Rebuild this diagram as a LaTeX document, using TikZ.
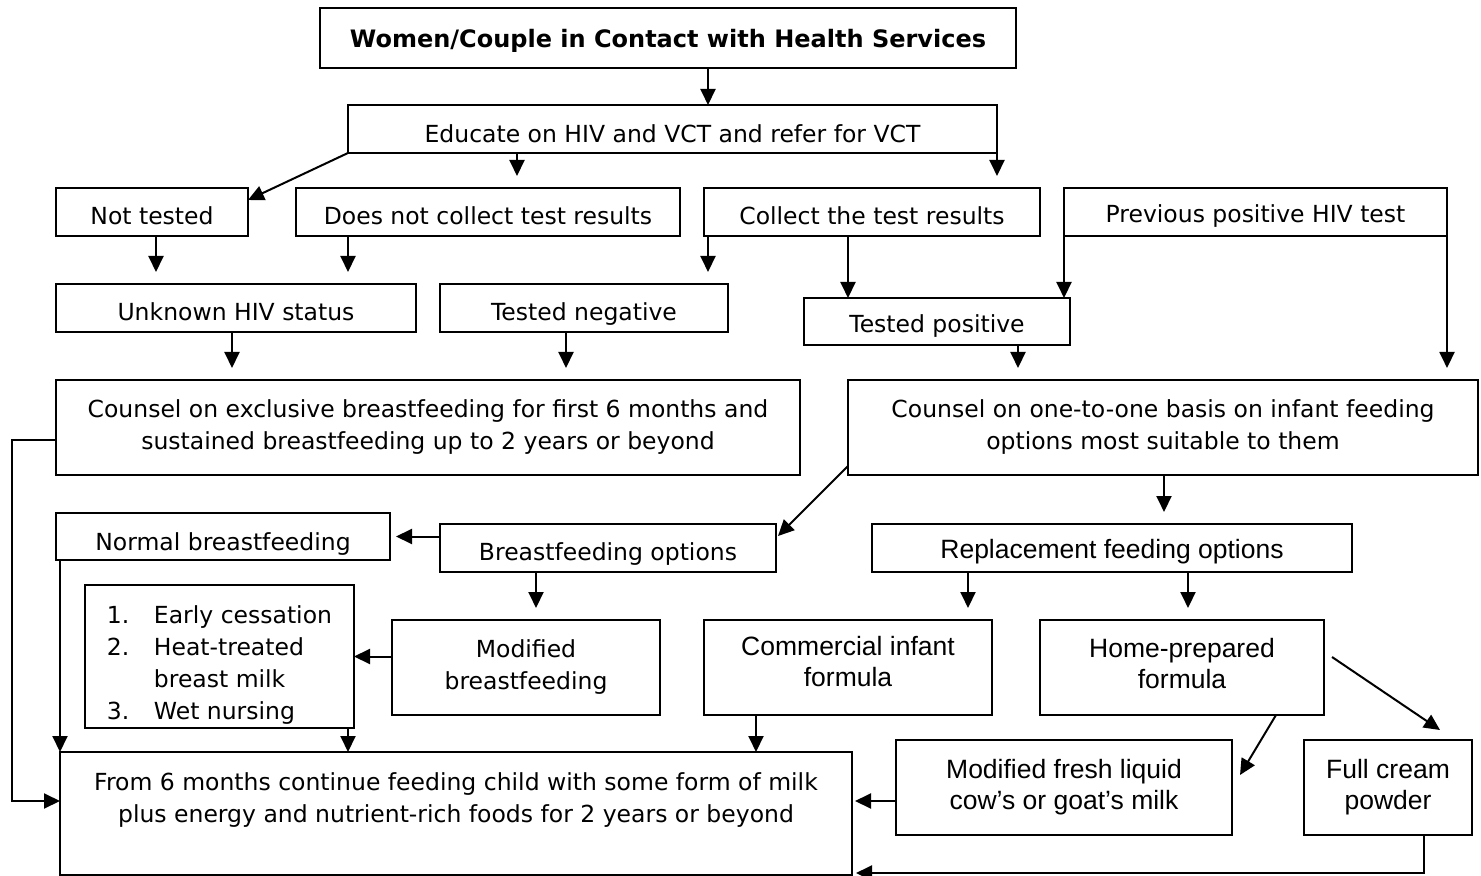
\documentclass[tikz,border=0pt]{standalone}
\usepackage{fontspec}
\newfontfamily\tahoma{DejaVu Sans}
\newfontfamily\arial{Liberation Sans}
\usetikzlibrary{arrows.meta,calc}

\tikzset{
  box/.style={draw, line width=1pt, inner sep=0pt, outer sep=0pt, align=center},
  tbox/.style={box, font=\tahoma\fontsize{11.75}{16}\selectfont},
  abox/.style={box, font=\arial\fontsize{13.25}{15.5}\selectfont},
  one/.style={text height=13pt, text depth=0pt},
  arr/.style={line width=1pt, -{Triangle[length=8pt,width=7.5pt]}}
}

\begin{document}
\begin{tikzpicture}[x=0.5pt,y=-0.5pt]
\useasboundingbox (0,0) rectangle (1481,876);
% testing part
\node[tbox, one, text height=9.5pt, minimum width=348pt, minimum height=30pt, font=\tahoma\bfseries\fontsize{12}{16}\selectfont] (top) at (668,38) {Women/Couple in Contact with Health Services};
\node[tbox, one, text height=14pt, minimum width=324.5pt, minimum height=24pt] (edu) at (672.5,129) {Educate on HIV and VCT and refer for VCT};
\node[tbox, one, minimum width=96pt, minimum height=24pt] (nt) at (152,212) {Not tested};
\node[tbox, one, minimum width=192pt, minimum height=24pt] (dnc) at (488,212) {Does not collect test results};
\node[tbox, one, minimum width=168pt, minimum height=24pt] (col) at (872,212) {Collect the test results};
\node[tbox, one, text height=11pt, minimum width=191.5pt, minimum height=24pt] (prev) at (1255.5,212) {Previous positive HIV test};
\node[tbox, one, minimum width=180pt, minimum height=24pt] (unk) at (236,308) {Unknown HIV status};
\node[tbox, one, minimum width=144pt, minimum height=24pt] (neg) at (584,308) {Tested negative};
\node[tbox, one, text height=11.5pt, minimum width=133pt, minimum height=23.5pt] (pos) at (937,321.5) {Tested positive};
% counselling
\node[tbox, minimum width=372pt, minimum height=47.5pt] (cbf) at (428,427.5) {Counsel on exclusive breastfeeding for first 6 months and\\sustained breastfeeding up to 2 years or beyond};
\node[tbox, minimum width=315pt, minimum height=47.5pt] (c121) at (1163,427.5) {Counsel on one-to-one basis on infant feeding\\options most suitable to them};
% feeding options
\node[tbox, one, text height=13.5pt, minimum width=167pt, minimum height=23.5pt] (nbf) at (223,536.5) {Normal breastfeeding};
\node[tbox, one, text height=12pt, minimum width=168pt, minimum height=24pt] (bfo) at (608,548) {Breastfeeding options};
\node[abox, one, text height=10pt, minimum width=240pt, minimum height=24pt] (rfo) at (1112,548) {Replacement feeding options};
\node[tbox, minimum width=134.5pt, minimum height=71.5pt, align=left] (lst) at (219.5,656.5) {\rule{0pt}{17pt}\makebox[23.5pt][l]{1.}Early cessation\\\makebox[23.5pt][l]{2.}Heat-treated\\\makebox[23.5pt][l]{}breast milk\\\makebox[23.5pt][l]{3.}Wet nursing};
\node[tbox, minimum width=134pt, minimum height=47.5pt] (mbf) at (526,667.5) {Modified\\breastfeeding};
\node[abox, minimum width=144pt, minimum height=47.5pt] (cif) at (848,667.5) {Commercial infant\\formula\rule[-6pt]{0pt}{6pt}};
\node[abox, minimum width=142pt, minimum height=47.5pt] (hpf) at (1182,667.5) {Home-prepared\\formula\rule[-4pt]{0pt}{4pt}};
\node[abox, minimum width=168pt, minimum height=47.5pt] (mfl) at (1064,787.5) {Modified fresh liquid\\cow’s or goat’s milk};
\node[abox, minimum width=84pt, minimum height=47.5pt] (fcp) at (1388,787.5) {Full cream\\powder\rule[-3pt]{0pt}{3pt}};
\node[tbox, minimum width=396pt, minimum height=61.5pt] (frm) at (456,813.5) {From 6 months continue feeding child with some form of milk\\plus energy and nutrient-rich foods for 2 years or beyond\\\mbox{}};

% arrows
\draw[arr] ($(top.south west)+(388,0)$) -- ($(edu.north west)+(360,0)$);
\draw[arr] (edu.south west) -- ($(nt.north east)+(0,12)$);
\draw[arr] ($(edu.south west)+(169,0)$) -- ($(dnc.north west)+(221,-12)$);
\draw[arr] (edu.south east) -- ($(col.north west)+(293,-12)$);
\draw[arr] ($(nt.south west)+(100,0)$) -- ($(unk.north west)+(100,-12)$);
\draw[arr] ($(dnc.south west)+(52,0)$) -- ($(unk.north west)+(292,-12)$);
\draw[arr] ($(col.south west)+(4,0)$) -- ($(neg.north east)+(-20,-12)$);
\draw[arr] ($(col.south west)+(144,0)$) -- ($(pos.north west)+(44,0)$);
\draw[arr] (prev.south west) -- ($(pos.north east)+(-6,0)$);
\draw[arr] (prev.south east) -- ($(c121.north east)+(-31,-12)$);
\draw[arr] ($(unk.south west)+(176,0)$) -- ($(cbf.north west)+(176,-12)$);
\draw[arr] ($(neg.south west)+(126,0)$) -- ($(cbf.north west)+(510,-12)$);
\draw[arr] ($(pos.south west)+(214,0)$) -- ($(c121.north west)+(170,-12)$);
\draw[arr] ($(cbf.west)+(0,12.5)$) -- ++(-44,0) |- ($(frm.west)+(0,-12.5)$);
\draw[arr] ($(c121.south west)+(0,-9)$) -- ($(bfo.north east)+(2,12)$);
\draw[arr] ($(c121.south west)+(316,0)$) -- ($(rfo.north west)+(292,-12)$);
\draw[arr] ($(bfo.west)+(0,-11.5)$) -- ($(nbf.east)+(6,0)$);
\draw[arr] ($(bfo.south west)+(96,0)$) -- ($(mbf.north west)+(144,-12)$);
\draw[arr] ($(mbf.west)+(0,-11)$) -- (lst.east);
\draw[arr] ($(nbf.south west)+(4,0)$) -- (frm.north west);
\draw[arr] ($(lst.south east)+(-6,0)$) -- ($(frm.north west)+(288,0)$);
\draw[arr] ($(rfo.south west)+(96,0)$) -- ($(cif.north west)+(264,-12)$);
\draw[arr] ($(rfo.south west)+(316,0)$) -- ($(hpf.north west)+(148,-12)$);
\draw[arr] ($(cif.south west)+(52,0)$) -- ($(frm.north west)+(696,0)$);
\draw[arr] ($(hpf.south east)+(-48,0)$) -- ($(mfl.east)+(8,-12.5)$);
\draw[arr] ($(hpf.east)+(8,-10.5)$) -- ($(fcp.north west)+(136,-10)$);
\draw[arr] ($(mfl.west)+(0,13.5)$) -- ($(frm.east)+(3,-12.5)$);
\draw[arr] ($(fcp.south west)+(120,0)$) |- ($(frm.south east)+(4,-2)$);
\end{tikzpicture}
\end{document}
